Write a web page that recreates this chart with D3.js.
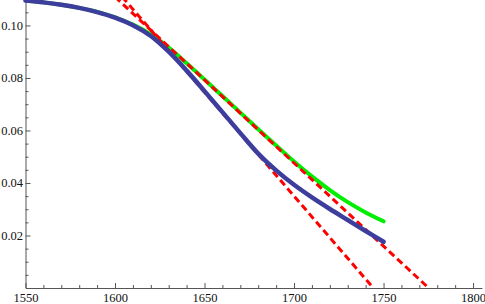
<!DOCTYPE html>
<html><head><meta charset="utf-8">
<script src="https://cdn.jsdelivr.net/npm/d3@7"></script>
<style>body{margin:0;background:#fff}svg{display:block}</style>
</head><body>
<svg id="chart" width="485" height="304"></svg>
<script>
const years = [1550,1560,1570,1580,1590,1600,1610,1620,1630,1640,1650,1660,1670,1680,1690,1700,1710,1720,1730,1740,1750];
const blueValues = [0.1095,0.1088,0.1079,0.1067,0.1051,0.1030,0.1001,0.0960,0.0900,0.0828,0.0750,0.0670,0.0590,0.0512,0.0448,0.0393,0.0345,0.0301,0.0259,0.0217,0.0176];
const greenValues = [0.1095,0.1088,0.1079,0.1067,0.1052,0.1031,0.1003,0.0966,0.0916,0.0856,0.0794,0.0731,0.0668,0.0605,0.0543,0.0482,0.0425,0.0373,0.0327,0.0288,0.0254];
const tangent1X = [1600, 1744.3];
const tangent1Y = [0.1141, 0];
const tangent2X = [1600, 1775.2];
const tangent2Y = [0.1109, 0];
const xMajorTicks = [1550,1600,1650,1700,1750,1800];
const xMinorTicks = d3.range(1560,1800,10).filter(v => v % 50 !== 0);
const yMajorTicks = [0.02,0.04,0.06,0.08,0.10];
const yMinorTicks = [0.005,0.01,0.015,0.025,0.03,0.035,0.045,0.05,0.055,0.065,0.07,0.075,0.085,0.09,0.095,0.105];

const svg = d3.select("#chart");
const x = d3.scaleLinear().domain([1550,1805]).range([25.5,482]);
const y = d3.scaleLinear().domain([0,0.1097]).range([288,0]);

svg.append("defs").append("clipPath").attr("id","plotclip")
  .append("rect").attr("x",25).attr("y",0).attr("width",460).attr("height",288);

const axisColor = "#555";
const font = "'Liberation Serif','Times New Roman',serif";

function styleAxis(g){
  g.select(".domain").attr("stroke",axisColor).attr("stroke-width",1);
  g.selectAll(".tick line").attr("stroke",axisColor).attr("stroke-width",1);
  g.selectAll(".tick text").attr("fill","#111").attr("font-family",font).attr("font-size",12.5);
}

const xg = svg.append("g").attr("transform","translate(0,288)")
  .call(d3.axisBottom(x).tickValues(xMajorTicks).tickFormat(d3.format("d")).tickSizeInner(-5).tickSizeOuter(0));
styleAxis(xg);
xg.selectAll(".tick text").attr("dy","0.71em").attr("y",5);
const xgm = svg.append("g").attr("transform","translate(0,288)")
  .call(d3.axisBottom(x).tickValues(xMinorTicks).tickFormat("").tickSizeInner(-3).tickSizeOuter(0));
styleAxis(xgm); xgm.select(".domain").remove();

const yg = svg.append("g").attr("transform","translate(25.5,0)")
  .call(d3.axisLeft(y).tickValues(yMajorTicks).tickFormat(d3.format(".2f")).tickSizeInner(-5).tickSizeOuter(0));
styleAxis(yg);
yg.selectAll(".tick text").attr("x",-2.5);
const ygm = svg.append("g").attr("transform","translate(25.5,0)")
  .call(d3.axisLeft(y).tickValues(yMinorTicks).tickFormat("").tickSizeInner(-3).tickSizeOuter(0));
styleAxis(ygm); ygm.select(".domain").remove();

const plot = svg.append("g").attr("clip-path","url(#plotclip)");
const line = d3.line().x(d=>x(d[0])).y(d=>y(d[1])).curve(d3.curveCatmullRom);

plot.append("path").datum(years.map((v,i)=>[v,greenValues[i]]))
  .attr("d",line).attr("fill","none").attr("stroke","#00ee00").attr("stroke-width",4).attr("stroke-linecap","round");
svg.append("path").datum(years.map((v,i)=>[v,blueValues[i]]))
  .attr("d",line).attr("fill","none").attr("stroke","#3d3d9e").attr("stroke-width",4.5).attr("stroke-linecap","round");

const straight = d3.line().x(d=>x(d[0])).y(d=>y(d[1]));
[[tangent1X,tangent1Y],[tangent2X,tangent2Y]].forEach(([xs,ys])=>{
  plot.append("path").datum(xs.map((v,i)=>[v,ys[i]]))
    .attr("d",straight).attr("fill","none").attr("stroke","#ff0000").attr("stroke-width",3)
    .attr("stroke-dasharray","7,4");
});
</script>
</body></html>
